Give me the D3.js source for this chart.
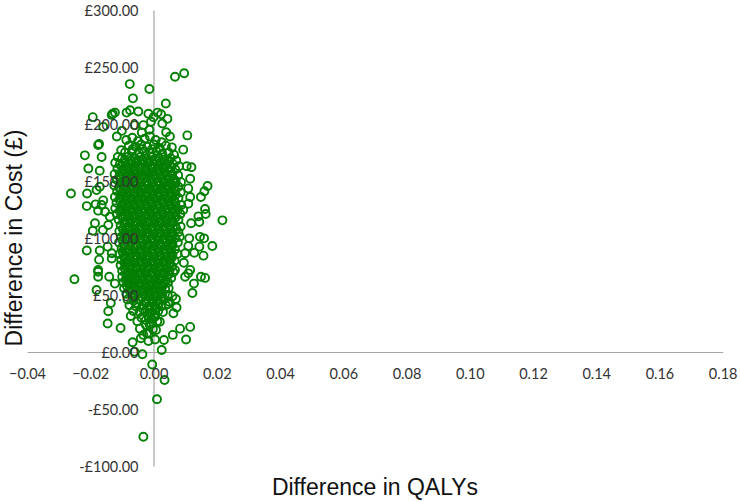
<!DOCTYPE html>
<html><head><meta charset="utf-8">
<style>html,body{margin:0;background:#fff}svg{display:block}</style>
<script src="https://cdn.jsdelivr.net/npm/d3@7/dist/d3.min.js"></script>
</head><body><svg id="c" width="740" height="501"></svg>
<script>
const xTicks=[-0.04,-0.02,0,0.02,0.04,0.06,0.08,0.10,0.12,0.14,0.16,0.18];
const yTicks=[-100,-50,0,50,100,150,200,250,300];
const xTitle="Difference in QALYs", yTitle="Difference in Cost (£)";
// x in thousandths of a QALY, y in pounds
const outerTop=[[9.7,244.5],[6.8,241.5],[-7.5,235],[-1.3,230.7],[-6.5,222.5],[3.9,218],[-19.2,206],[-12.2,210],[-12.9,209],[-13.2,208],[-7.4,212],[-8.5,210],[-4.8,211],[-1.6,209],[1.3,210],[2.4,208.5],[0,206],[4.4,204.5],[2.8,200.5],[-0.8,202],[-3.2,199],[-15.9,197.5],[-5.9,199],[-1.3,195],[-3.7,192.5],[4,192.7],[5.2,189],[10.7,190],[-11.6,189],[-10,194],[-17.5,181.5],[-17.2,182.5],[-21.7,172.5],[9.4,177.5],[5.8,179.5],[-16.4,171],[-20.6,161],[10.5,163],[12,162],[-17,159]];
const outerMid=[[-26.1,139],[-21,139],[-18,142],[-17,145],[-21.1,128],[-18.3,129.5],[-17.5,124],[-15.9,133],[-16.4,129],[-15.3,123],[-18.5,113],[-19.2,106.4],[-16,107],[-13.8,118.7],[-14.3,111.4],[-21.1,89],[-17,89],[-17.2,81],[-14.5,92.4],[-13.2,86.6],[-13.2,82],[-17.5,72],[21.8,115.5],[17.1,145.6],[16.1,141],[15,136],[11.6,152],[11,143.5],[11.6,136],[11,130],[9.4,124.5],[16.3,125.5],[16.5,121],[14.2,119],[14.5,114],[11.9,113],[18.6,93],[15.8,84.5],[14.7,101],[16,99.7],[11.3,99.7],[11,93],[14.5,92.4],[12.9,87],[10,86.6],[9.6,78.3],[6.8,72],[11.6,72]];
const outerLow=[[-25,63.8],[-18,54.4],[-17.5,66],[-17.5,70.4],[-14,66],[-12.2,60],[-13.5,43],[-14.3,35.7],[-14.5,25],[-10.4,21],[-6.6,8.5],[-3.5,-2],[-0.4,-11],[2.6,1.8],[10.3,11],[11.6,22],[8.4,20.5],[6.1,15],[3.3,10.5],[0.5,11],[-1.6,9.6],[-4,12],[-3.2,15],[-2,16.4],[0.8,19.3],[-4.3,20.5],[-5.1,27],[-7.2,31.6],[6.3,34],[7.3,39],[4.7,42],[7.1,46.5],[12.3,51.8],[12.8,60],[15,66],[16.3,65],[11,69],[10,66],[2,26.6],[0.5,31],[-2.4,23.7],[-2.4,28],[-1.1,34],[3.5,-24.6],[1.1,-41.5],[-3.2,-74.3],[-6,0.3]];
const core190=[[-8.6,186],[-6.7,188],[-4.9,185],[-2.8,187],[-1.1,189],[0.7,186],[2.6,184],[-7.8,181],[-5.6,180],[-3.9,182],[-2,180],[0.1,182],[1.9,179],[3.9,181],[-10.2,177],[-9,175],[-6.8,176],[-4.6,175],[-2.9,176],[-1,175],[0.9,176],[2.8,174],[4.8,175],[6.5,173],[-11.3,171],[-9.9,170],[-8.1,171],[-6.1,170],[-4.2,171],[-2.3,170],[-0.4,171],[1.6,170],[3.5,169],[5.4,170],[7.2,168]];
const core165=[[-12.1,166],[-10.6,165],[-8.9,166],[-7.2,165],[-5.3,166],[-3.6,165],[-1.6,166],[0.2,165],[2.1,166],[4.2,165],[6.1,165],[8.1,163],[-11.4,161],[-9.7,160],[-7.9,161],[-6.2,160],[-4.4,161],[-2.6,160],[-0.8,161],[1.1,160],[3,161],[4.9,160],[6.9,160],[-12.3,156],[-10.7,155],[-8.8,156],[-7,155],[-5.1,156],[-3.3,155],[-1.5,156],[0.4,155],[2.2,156],[4.1,155],[5.9,156],[7.8,155],[-11.6,151],[-9.6,150],[-8,151],[-6.1,150],[-4.2,151],[-2.4,150],[-0.6,151],[1.3,150],[3.2,150],[5.1,151],[7,150],[8.7,149]];
const core145=[[-12.4,146],[-10.8,145],[-9,146],[-7.1,145],[-5.3,146],[-3.5,145],[-1.7,146],[0.2,145],[2.1,146],[4,145],[5.9,146],[7.9,145],[-11.5,141],[-9.8,140],[-8,141],[-6.2,140],[-4.4,141],[-2.6,140],[-0.7,141],[1.2,140],[3.1,141],[5,140],[6.9,141],[8.6,140],[-12.2,136],[-10.6,135],[-8.9,136],[-7.1,135],[-5.2,136],[-3.4,135],[-1.6,136],[0.3,135],[2.2,136],[4.1,135],[6,136],[7.9,135],[-11.7,131],[-9.7,130],[-8,131],[-6.2,130],[-4.3,131],[-2.5,130],[-0.7,131],[1.2,130],[3.1,131],[5,130],[6.9,131],[8.8,129],[-12.1,126],[-10.5,125],[-8.8,126],[-7,125],[-5.2,126],[-3.4,125],[-1.5,126],[0.3,125],[2.2,126],[4.1,125],[6,126],[7.8,125]];
const core120=[[-11.6,121],[-9.8,120],[-8,121],[-6.2,120],[-4.4,121],[-2.5,120],[-0.7,121],[1.2,120],[3.1,121],[5,120],[6.9,120],[8.5,121],[-11,116],[-9,115],[-7.1,116],[-5.3,115],[-3.5,116],[-1.6,115],[0.3,116],[2.2,115],[4.1,116],[6,115],[7.9,116],[-10.4,111],[-8.1,110],[-6.2,111],[-4.4,110],[-2.6,111],[-0.7,110],[1.2,111],[3.1,110],[5,111],[6.9,110],[8.6,110],[-10.8,106],[-9,105],[-7.1,106],[-5.3,105],[-3.4,106],[-1.6,105],[0.3,106],[2.2,105],[4.1,106],[6,105],[7.9,105],[-10.2,101],[-8.1,100],[-6.2,101],[-4.4,100],[-2.5,101],[-0.7,100],[1.2,101],[3.1,100],[5,101],[6.9,100],[8.3,101]];
const core95=[[-10.9,96],[-9,95],[-7.1,96],[-5.3,95],[-3.5,96],[-1.6,95],[0.3,96],[2.2,95],[4.1,96],[6,95],[7.7,96],[-10.1,91],[-8.1,90],[-6.2,91],[-4.4,90],[-2.5,91],[-0.7,90],[1.2,91],[3.1,90],[5,91],[6.8,90],[-10.7,86],[-9,85],[-7.1,86],[-5.3,85],[-3.4,86],[-1.6,85],[0.3,86],[2.2,85],[4.1,86],[6,85],[7.6,86],[-10.2,81],[-8.1,80],[-6.2,81],[-4.4,80],[-2.5,81],[-0.7,80],[1.2,81],[3.1,80],[5,81],[6.7,80],[-10.4,76],[-8.9,75],[-7.1,76],[-5.3,75],[-3.4,76],[-1.6,75],[0.3,76],[2.2,75],[4.1,76],[5.9,75],[-9.9,71],[-8,70],[-6.2,71],[-4.4,70],[-2.5,71],[-0.7,70],[1.2,71],[3.1,70],[5,71],[6.3,70]];
const core65=[[-9.9,66],[-8.6,65],[-7,66],[-5.3,65],[-3.4,66],[-1.6,65],[0.3,66],[2.2,65],[4.1,66],[5.6,65],[-9.5,61],[-7.9,60],[-6.1,61],[-4.3,60],[-2.5,61],[-0.6,60],[1.2,61],[3.1,60],[4.6,61],[-9.3,56],[-7.5,55],[-5.6,56],[-3.7,55],[-1.8,56],[0,55],[1.9,56],[3.7,55],[4.8,56],[-8.6,51],[-6.7,50],[-4.8,51],[-2.9,50],[-1,51],[0.9,50],[2.8,51],[4.5,50],[6,49],[-8.2,46],[-6.3,45],[-4.4,46],[-2.4,45],[-0.5,46],[1.4,45],[3.3,46],[5,44],[-7.6,41],[-5.5,40],[-3.5,41],[-1.5,40],[0.5,41],[2.4,40],[3.9,41],[-6.4,36],[-4.4,35],[-2.6,36],[-0.5,35],[1.5,36],[3,35],[-3.8,30],[-0.6,29],[1.2,27],[-1.2,24],[-0.2,20],[-1.4,16]];
const denseHigh=[[-6.6,178],[-3.6,178],[-0.4,178],[2.2,177],[-9.1,168],[-7.1,168],[-5.2,168],[-3.3,168],[-1.4,168],[0.6,168],[2.6,167],[4.6,167],[-10.2,163],[-8.3,163],[-6.4,163],[-4.5,163],[-2.5,163],[-0.5,163],[1.5,163],[3.5,163],[5.5,162],[-9.9,158],[-7.9,158],[-6,158],[-4.1,158],[-2.2,158],[-0.2,158],[1.7,158],[3.6,158],[5.4,158],[-10.6,153],[-8.6,153],[-6.7,153],[-4.8,153],[-2.9,153],[-1,153],[0.9,153],[2.8,153],[4.7,153],[6.3,152],[-10,148],[-8,148],[-6.1,148],[-4.2,148],[-2.3,148],[-0.4,148],[1.5,148],[3.4,148],[5.3,148],[6.9,148],[-10.6,143],[-8.7,143],[-6.8,143],[-4.9,143],[-3,143],[-1.1,143],[0.8,143],[2.7,143],[4.6,143],[6.5,143],[-10,138],[-8,138],[-6.1,138],[-4.2,138],[-2.3,138],[-0.4,138],[1.5,138],[3.4,138],[5.3,138],[7,138],[-10.6,133],[-8.7,133],[-6.8,133],[-4.9,133],[-3,133],[-1.1,133],[0.8,133],[2.7,133],[4.6,133],[6.5,133]];
const denseLow=[[-10,128],[-8,128],[-6.1,128],[-4.2,128],[-2.3,128],[-0.4,128],[1.5,128],[3.4,128],[5.3,128],[7,128],[-10.5,123],[-8.7,123],[-6.8,123],[-4.9,123],[-3,123],[-1.1,123],[0.8,123],[2.7,123],[4.6,123],[6.5,123],[-9.8,118],[-8,118],[-6.1,118],[-4.2,118],[-2.3,118],[-0.4,118],[1.5,118],[3.4,118],[5.3,118],[7,118],[-9.2,113],[-7.4,113],[-5.5,113],[-3.6,113],[-1.7,113],[0.2,113],[2.1,113],[4,113],[5.9,113],[-9.7,108],[-8,108],[-6.1,108],[-4.2,108],[-2.3,108],[-0.4,108],[1.5,108],[3.4,108],[5.3,108],[7.2,108],[-9.2,103],[-7.4,103],[-5.5,103],[-3.6,103],[-1.7,103],[0.2,103],[2.1,103],[4,103],[5.9,103],[-9.8,98],[-8,98],[-6.1,98],[-4.2,98],[-2.3,98],[-0.4,98],[1.5,98],[3.4,98],[5.3,98],[-9.2,93],[-7.4,93],[-5.5,93],[-3.6,93],[-1.7,93],[0.2,93],[2.1,93],[4,93],[5.9,93],[-9.8,88],[-8,88],[-6.1,88],[-4.2,88],[-2.3,88],[-0.4,88],[1.5,88],[3.4,88],[5.3,88],[-9.2,83],[-7.4,83],[-5.5,83],[-3.6,83],[-1.7,83],[0.2,83],[2.1,83],[4,83],[5.8,83],[-9.1,78],[-8,78],[-6.1,78],[-4.2,78],[-2.3,78],[-0.4,78],[1.5,78],[3.4,78],[5.1,78],[-9,73],[-7.2,73],[-5.4,73],[-3.5,73],[-1.6,73],[0.3,73],[2.1,73],[4,73],[-8.4,68],[-6.2,68],[-4.4,68],[-2.5,68],[-0.6,68],[1.3,68],[3.2,68],[4.8,68],[-8.7,63],[-7,63],[-5.1,63],[-3.2,63],[-1.3,63],[0.4,63],[2.2,63],[3.9,63],[-8.4,58],[-6.4,58],[-4.6,58],[-2.7,58],[-0.8,58],[1,58],[2.9,58],[-7.4,53],[-5.4,53],[-3.6,53],[-1.7,53],[0.2,53],[2.1,53],[-6.4,48],[-3.6,48],[-1.4,48],[0.6,48],[2.4,48],[-5.2,43],[-2.5,43],[-0.4,43],[1.7,43],[-3.4,38],[-1.4,38],[0.6,38],[-1.8,32],[0.4,33],[-0.8,25]];
const points=[...outerTop,...outerMid,...outerLow,...core190,...core165,...core145,...core120,...core95,...core65,...denseHigh,...denseLow];

const x=d3.scaleLinear().domain([-0.04,0.18]).range([27,722.7]);
const y=d3.scaleLinear().domain([-100,300]).range([466,10]);
const svg=d3.select("#c");
const green="#037f03", grey="#a6a6a6", ink="#333";
// axis lines sit beneath the markers, tick labels above them
const lineX=d3.axisBottom(x).tickValues([]).tickSize(0).tickSizeOuter(0);
const lineY=d3.axisLeft(y).tickValues([]).tickSize(0).tickSizeOuter(0);
[svg.append("g").attr("transform",`translate(0,${y(0)})`).call(lineX),
 svg.append("g").attr("transform",`translate(${x(0)},0)`).call(lineY)]
 .forEach(g=>g.select(".domain").attr("stroke",grey).attr("stroke-width",1.2));
svg.append("g").selectAll("circle").data(points).join("circle")
 .attr("cx",d=>x(d[0]/1000)).attr("cy",d=>y(d[1])).attr("r",4)
 .attr("fill","none").attr("stroke",green).attr("stroke-width",1.9);
const ax=d3.axisBottom(x).tickValues(xTicks).tickSize(0).tickPadding(17).tickFormat(d3.format(".2f"));
const ay=d3.axisLeft(y).tickValues(yTicks).tickSize(0).tickPadding(15)
 .tickFormat(d=>(d<0?"-":"")+"£"+Math.abs(d).toFixed(2));
const gx=svg.append("g").attr("transform",`translate(0,${y(0)})`).call(ax);
const gy=svg.append("g").attr("transform",`translate(${x(0)},0)`).call(ay);
[gx,gy].forEach(g=>{g.select(".domain").remove();
 g.selectAll("text").attr("fill",ink).attr("font-family","Lato, 'Open Sans', sans-serif").attr("font-size",14.5);});
gy.selectAll("text").attr("dy","0.36em");
svg.append("text").attr("x",375).attr("y",495).attr("text-anchor","middle")
 .attr("font-family","'Liberation Sans',Arial,sans-serif").attr("font-size",23).attr("fill","#111").text(xTitle);
svg.append("text").attr("transform","translate(22,238) rotate(-90)").attr("text-anchor","middle")
 .attr("font-family","'Liberation Sans',Arial,sans-serif").attr("font-size",23).attr("fill","#111").text(yTitle);
</script></body></html>
